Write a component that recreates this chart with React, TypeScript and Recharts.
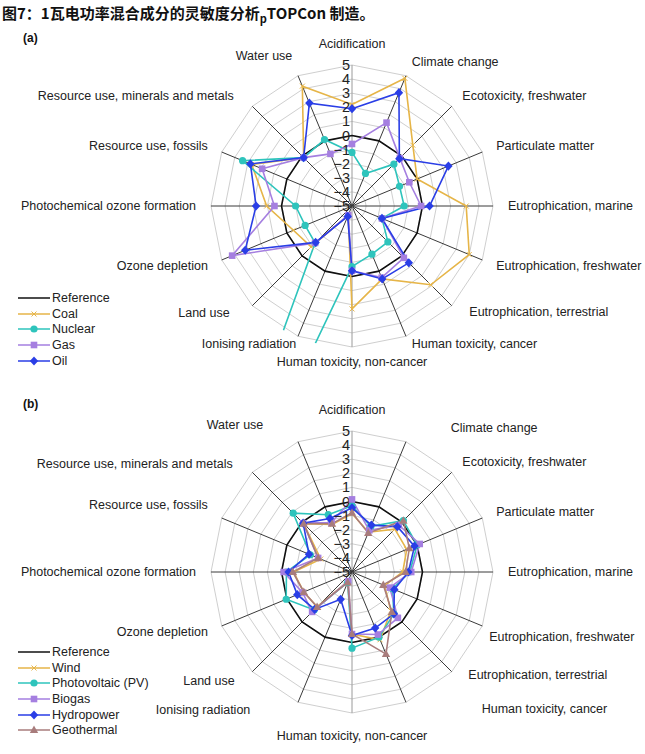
import React from "react"
import { RadarChart, Radar, PolarGrid, PolarAngleAxis, PolarRadiusAxis } from "recharts"

// impact categories, clockwise from the top
const CATEGORIES = [
  "Acidification",
  "Climate change",
  "Ecotoxicity, freshwater",
  "Particulate matter",
  "Eutrophication, marine",
  "Eutrophication, freshwater",
  "Eutrophication, terrestrial",
  "Human toxicity, cancer",
  "Human toxicity, non-cancer",
  "Ionising radiation",
  "Land use",
  "Ozone depletion",
  "Photochemical ozone formation",
  "Resource use, fossils",
  "Resource use, minerals and metals",
  "Water use",
]

const RADIUS_TICKS = [-5, -4, -3, -2, -1, 0, 1, 2, 3, 4, 5]

const REFERENCE = [0, 0, 0, 0, 0, 0, 0, 0, 0, 0, 0, 0, 0, 0, 0, 0]

// (a) fossil / nuclear mixes
const COAL = [2.2, 4.8, 1.1, 0.0, 3.1, 4.0, 2.9, 0.6, 2.3, -4.3, -0.9, -0.5, 1.05, 2.7, -0.15, 4.2]
const NUCLEAR = [-1.2, -2.5, -0.8, -1.35, -1.3, -2.7, -1.4, -1.3, -0.7, 30, -1.3, -1.4, -1.0, 3.4, -0.15, 0.1]
const GAS = [-0.6, 1.4, -0.2, -0.6, -0.1, -2.7, 0.2, 0.5, -0.4, -4.3, -1.3, 4.2, 0.5, 1.9, -0.15, -1.0]
const OIL = [1.9, 3.7, -0.25, 2.4, 0.5, -2.7, 0.7, 0.6, -0.4, -4.2, -1.35, 3.2, 1.8, 2.8, -0.15, 2.9]

// (b) renewable mixes
const WIND = [-0.85, -1.95, -0.7, -0.8, -1.4, -2.5, -1.1, 0.2, -0.6, -4.3, -1.5, -1.3, -0.85, -2.6, -0.15, -1.35]
const PV = [-0.3, -1.5, 0.15, 0.0, -0.9, -1.9, -0.8, 0.0, 0.4, -4.2, -1.2, 0.05, -0.35, -1.8, 0.9, -0.6]
const BIOGAS = [0.15, -1.8, -0.3, 0.2, -0.8, -2.1, -0.4, -0.2, -0.6, -4.3, -1.0, -1.2, -0.15, -2.4, -0.1, -1.2]
const HYDRO = [-0.45, -1.4, -0.45, -0.2, -1.0, -1.75, -0.8, -0.7, -0.5, -2.9, -1.25, -0.8, -0.5, -1.7, -0.1, -0.9]
const GEOTHERMAL = [-0.8, -2.0, 0.15, -0.6, -1.2, -2.6, -1.0, 1.3, -0.6, -4.2, -1.5, -1.3, -0.8, -2.4, -0.15, -1.3]

const GOLD = "#e6b548"
const TEAL = "#2ec4bc"
const PURPLE = "#a57fe0"
const BLUE = "#2a3ee6"
const MAUVE = "#a87c7c"

const FONT = "'Liberation Sans', Arial, Helvetica, sans-serif"
const W = 645
const H = 366
const CX = 352
const CY = 183
const R = 141

type MarkerKind = "none" | "x" | "circle" | "square" | "diamond" | "triangle"

interface SeriesDef {
  key: string
  name: string
  color: string
  marker: MarkerKind
  values: number[]
}

const SERIES_A: SeriesDef[] = [
  { key: "ref", name: "Reference", color: "#111", marker: "none", values: REFERENCE },
  { key: "coal", name: "Coal", color: GOLD, marker: "x", values: COAL },
  { key: "nuclear", name: "Nuclear", color: TEAL, marker: "circle", values: NUCLEAR },
  { key: "gas", name: "Gas", color: PURPLE, marker: "square", values: GAS },
  { key: "oil", name: "Oil", color: BLUE, marker: "diamond", values: OIL },
]

const SERIES_B: SeriesDef[] = [
  { key: "ref", name: "Reference", color: "#111", marker: "none", values: REFERENCE },
  { key: "wind", name: "Wind", color: GOLD, marker: "x", values: WIND },
  { key: "pv", name: "Photovoltaic (PV)", color: TEAL, marker: "circle", values: PV },
  { key: "biogas", name: "Biogas", color: PURPLE, marker: "square", values: BIOGAS },
  { key: "hydro", name: "Hydropower", color: BLUE, marker: "diamond", values: HYDRO },
  { key: "geo", name: "Geothermal", color: MAUVE, marker: "triangle", values: GEOTHERMAL },
]

// small hand nudges for the category labels, per panel
const NUDGE_A: Record<string, [number, number]> = {
  "Acidification": [0, -6],
  "Water use": [0, -6],
  "Land use": [-12, -3],
  "Human toxicity, cancer": [0, -6],
  "Ionising radiation": [4, -6],
  "Resource use, minerals and metals": [-8, 0],
  "Eutrophication, terrestrial": [7, -4],
}
const NUDGE_B: Record<string, [number, number]> = {
  "Acidification": [0, -6],
  "Climate change": [39, 0],
  "Human toxicity, cancer": [70, -7],
  "Human toxicity, non-cancer": [0, 8],
  "Ionising radiation": [-42, -6],
  "Water use": [-29, -3],
  "Resource use, minerals and metals": [-9, 2],
  "Resource use, fossils": [0, -7],
  "Eutrophication, terrestrial": [6, -7],
  "Eutrophication, freshwater": [-7, 5],
  "Land use": [-7, -1],
}

function buildRows(series: SeriesDef[]) {
  return CATEGORIES.map((name, i) => {
    const row: Record<string, number | string> = { name }
    series.forEach((s) => (row[s.key] = s.values[i]))
    return row
  })
}

function Marker({ kind, x, y, color }: { kind: MarkerKind; x: number; y: number; color: string }) {
  switch (kind) {
    case "x":
      return (
        <g stroke={color} strokeWidth={1}>
          <line x1={x - 2.5} y1={y - 2.5} x2={x + 2.5} y2={y + 2.5} />
          <line x1={x - 2.5} y1={y + 2.5} x2={x + 2.5} y2={y - 2.5} />
        </g>
      )
    case "circle":
      return <circle cx={x} cy={y} r={3.6} fill={color} />
    case "square":
      return <rect x={x - 3.3} y={y - 3.3} width={6.6} height={6.6} fill={color} />
    case "diamond":
      return <polygon points={`${x},${y - 4.6} ${x + 4.2},${y} ${x},${y + 4.6} ${x - 4.2},${y}`} fill={color} />
    case "triangle":
      return <polygon points={`${x},${y - 4.4} ${x + 4.2},${y + 3} ${x - 4.2},${y + 3}`} fill={color} />
    default:
      return null
  }
}

function AngleTick(props: any, nudges: Record<string, [number, number]>) {
  const { payload } = props
  const deg = payload.coordinate
  const rad = (-deg * Math.PI) / 180
  const cos = Math.cos(rad)
  const sin = Math.sin(rad)
  const [nx, ny] = nudges[payload.value] ?? [0, 0]
  const x = CX + 156 * cos + nx
  const y = CY + 156 * sin + ny
  const anchor = Math.abs(cos) < 0.05 ? "middle" : cos > 0 ? "start" : "end"
  return (
    <text x={x} y={y} textAnchor={anchor} dominantBaseline="central" fontSize={12.5} fill="#222" fontFamily={FONT}>
      {payload.value}
    </text>
  )
}

function RadiusTick(props: any) {
  const { x, y, payload } = props
  const v = payload.value as number
  return (
    <text x={x - 2} y={y} textAnchor="end" dominantBaseline="central" fontSize={14.5} fill="#222" fontFamily={FONT}>
      {v < 0 ? `\u2212${Math.abs(v)}` : String(v)}
    </text>
  )
}

function LegendBox({ series, top }: { series: SeriesDef[]; top: number }) {
  return (
    <div style={{ position: "absolute", left: 18, top, fontFamily: FONT, fontSize: 12.5, color: "#222" }}>
      {series.map((s) => (
        <div key={s.key} style={{ display: "flex", alignItems: "center", height: 15.7 }}>
          <svg width={32} height={10} style={{ marginRight: 2 }}>
            <line x1={0} y1={5} x2={32} y2={5} stroke={s.color} strokeWidth={1.5} />
            <Marker kind={s.marker} x={16} y={5} color={s.color} />
          </svg>
          <span>{s.name}</span>
        </div>
      ))}
    </div>
  )
}

function Panel({
  letter, series, nudges, top, legendTop, clipId,
}: {
  letter: string
  series: SeriesDef[]
  nudges: Record<string, [number, number]>
  top: number
  legendTop: number
  clipId: string
}) {
  const data = buildRows(series)
  return (
    <div className={`panel-${clipId}`} style={{ position: "absolute", left: 0, top, width: W, height: H }}>
      <RadarChart width={W} height={H} data={data} cx={CX} cy={CY} outerRadius={R} margin={{ top: 0, right: 0, bottom: 0, left: 0 }}>
        <PolarGrid gridType="polygon" />
        <PolarAngleAxis dataKey="name" tick={(p: any) => AngleTick(p, nudges)} tickLine={false} axisLine={false} />
        {series.map((s) => (
          <Radar
            key={s.key}
            dataKey={s.key}
            name={s.name}
            stroke={s.color}
            strokeWidth={1.6}
            fill="none"
            fillOpacity={0}
            isAnimationActive={false}
            dot={(p: any) => (
              <g key={`${s.key}-${p.index}`}>
                <Marker kind={s.marker} x={p.cx} y={p.cy} color={s.color} />
              </g>
            )}
          />
        ))}
        <PolarRadiusAxis
          angle={90}
          domain={[-5, 5]}
          ticks={RADIUS_TICKS as any}
          tickCount={11}
          allowDataOverflow
          axisLine={false}
          tickLine={false}
          tick={RadiusTick}
        />
      </RadarChart>
      <div style={{ position: "absolute", left: 23, top: 8, fontFamily: FONT, fontWeight: "bold", fontSize: 12, color: "#111" }}>
        ({letter})
      </div>
      <LegendBox series={series} top={legendTop} />
    </div>
  )
}

const CSS = `
.recharts-polar-grid-concentric path { stroke: #cfcfcf; }
.recharts-polar-grid-angle line { stroke: #3a3a3a; }
.recharts-polar-grid-angle line:nth-child(1), .recharts-polar-grid-angle line:nth-child(9) { stroke: #9a9a9a; }
.panel-a .recharts-radar, .panel-b .recharts-radar { clip-path: url(#plot-clip); }
`

export default function App() {
  return (
    <div style={{ position: "absolute", left: 0, top: 0, width: W, height: 754, background: "#fff", overflow: "hidden" }}>
      <style>{CSS}</style>
      <svg width={0} height={0} style={{ position: "absolute" }}>
        <defs>
          <clipPath id="plot-clip" clipPathUnits="userSpaceOnUse">
            <circle cx={CX} cy={CY} r={R + 1} />
          </clipPath>
        </defs>
      </svg>
      <div
        style={{
          position: "absolute", left: 2, top: 2, fontFamily: "'Noto Sans CJK SC', sans-serif",
          fontWeight: "bold", fontSize: 15, color: "#111", whiteSpace: "nowrap",
        }}
      >
        图7：1瓦电功率混合成分的灵敏度分析<sub style={{ fontSize: 11 }}>p</sub>TOPCon 制造。
      </div>
      <Panel letter="a" series={SERIES_A} nudges={NUDGE_A} top={23} legendTop={267} clipId="a" />
      <Panel letter="b" series={SERIES_B} nudges={NUDGE_B} top={389} legendTop={255} clipId="b" />
    </div>
  )
}
